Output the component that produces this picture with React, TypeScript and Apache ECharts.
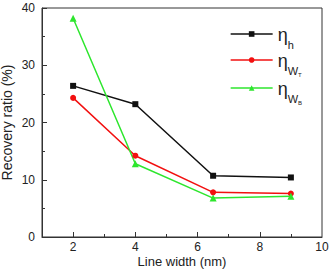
import React, { useEffect, useRef } from "react";
import * as echarts from "echarts";

const xValues = [2, 4, 6.5, 9];
const etaH = [26.4, 23.2, 10.7, 10.4];
const etaWT = [24.3, 14.2, 7.8, 7.6];
const etaWB = [38.2, 12.8, 6.8, 7.1];
const xLabelValues = [2, 4, 6, 8, 10];
const xMajorTicks = [2, 4, 6, 8];
const xMinorTicks = [3, 5, 7, 9];

export default function App() {
  const ref = useRef<HTMLDivElement>(null);
  useEffect(() => {
    if (!ref.current) return;
    const chart = echarts.init(ref.current, null, { renderer: "svg" });
    const font = "Liberation Sans, Arial, sans-serif";
    const axisColor = "#333";
    const mk = (vals: number[]) => xValues.map((x, i) => [x, vals[i]]);
    const rich = {
      eta: { fontSize: 18, fontFamily: font, color: "#222", verticalAlign: "bottom" as const, lineHeight: 20 },
      sub: { fontSize: 11, fontFamily: font, color: "#222", verticalAlign: "bottom" as const, lineHeight: 14, padding: [0, 0, -6, 0] },
      subsub: { fontSize: 6, fontFamily: font, color: "#222", verticalAlign: "bottom" as const, lineHeight: 8, padding: [0, 0, -8, 0] },
    };
    chart.setOption({
      animation: false,
      grid: {
        left: 42, right: 7, top: 8, bottom: 33,
        containLabel: false, outerBoundsMode: "none",
        show: true, borderColor: axisColor, borderWidth: 1,
      },
      legend: {
        orient: "vertical",
        left: 230,
        top: 26,
        padding: 0,
        itemWidth: 42,
        itemHeight: 7,
        itemGap: 2,
        lineStyle: { width: 1.3 },
        textStyle: { rich, fontFamily: font },
        formatter: (name: string) => {
          if (name === "h") return "{eta|η}{sub|h}";
          if (name === "WT") return "{eta|η}{sub|W}{subsub|T}";
          return "{eta|η}{sub|W}{subsub|B}";
        },
        data: ["h", "WT", "WB"],
      },
      xAxis: [
        {
          type: "value",
          min: 1,
          max: 10,
          name: "Line width (nm)",
          nameLocation: "middle",
          nameGap: 18,
          nameMoveOverlap: false,
          nameTextStyle: { fontFamily: font, fontSize: 13, color: "#222" },
          axisLine: { lineStyle: { color: axisColor, width: 1 } },
          axisTick: { inside: true, length: 5, customValues: xMajorTicks, lineStyle: { color: axisColor } },
          axisLabel: { customValues: xLabelValues, fontFamily: font, fontSize: 12, color: "#222", margin: 4 },
          splitLine: { show: false },
        },
        {
          type: "value",
          min: 1,
          max: 10,
          position: "bottom",
          axisLine: { show: false },
          axisTick: { inside: true, length: 3, customValues: xMinorTicks, lineStyle: { color: axisColor } },
          axisLabel: { show: false },
          splitLine: { show: false },
        },
      ],
      yAxis: {
        type: "value",
        min: 0,
        max: 40,
        interval: 10,
        name: "Recovery ratio (%)",
        nameLocation: "middle",
        nameGap: 28,
        nameMoveOverlap: false,
        nameRotate: 90,
        nameTextStyle: { fontFamily: font, fontSize: 14, color: "#222" },
        axisLine: { show: true, lineStyle: { color: axisColor, width: 1 } },
        axisTick: { show: true, inside: true, length: 5, lineStyle: { color: axisColor } },
        minorTick: { show: true, splitNumber: 2, length: 3, lineStyle: { color: axisColor } },
        axisLabel: { fontFamily: font, fontSize: 12, color: "#222", margin: 7 },
        splitLine: { show: false },
      },
      series: [
        {
          name: "h",
          type: "line",
          data: mk(etaH),
          symbol: "rect",
          symbolSize: 6,
          color: "#111",
          lineStyle: { width: 1.5, color: "#111" },
          itemStyle: { color: "#111" },
        },
        {
          name: "WT",
          type: "line",
          data: mk(etaWT),
          symbol: "circle",
          symbolSize: 6,
          color: "#f21010",
          lineStyle: { width: 1.5, color: "#f21010" },
          itemStyle: { color: "#f21010" },
        },
        {
          name: "WB",
          type: "line",
          data: mk(etaWB),
          symbol: "triangle",
          symbolSize: 7,
          color: "#2ee62e",
          lineStyle: { width: 1.5, color: "#2ee62e" },
          itemStyle: { color: "#2ee62e" },
        },
      ],
    });
    return () => chart.dispose();
  }, []);
  return <div ref={ref} style={{ width: 329, height: 270, position: "absolute", left: 0, top: 0 }} />;
}
